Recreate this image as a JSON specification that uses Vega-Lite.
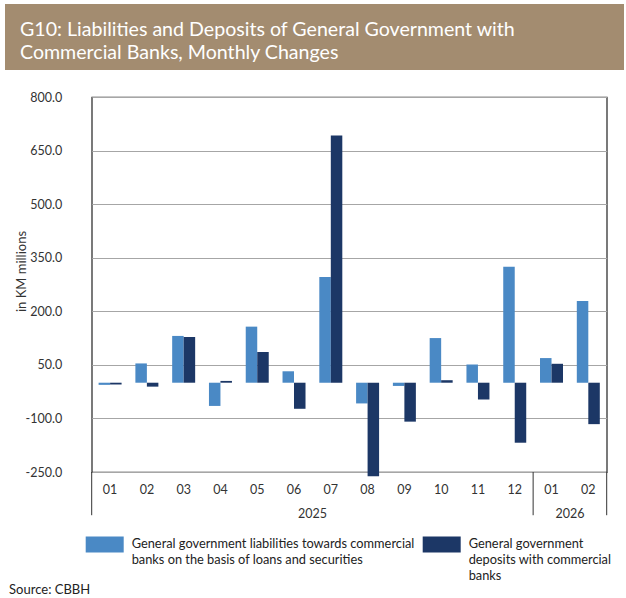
{
  "$schema": "https://vega.github.io/schema/vega-lite/v6.json",
  "padding": {"left": 5, "top": 4, "right": 2, "bottom": 0},
  "background": "white",
  "spacing": 20,
  "center": true,
  "resolve": {"legend": {"color": "independent"}},
  "config": {"font": "Lato", "view": {"stroke": null}, "style": {"guide-label": {"lineHeight": 16}}},
  "datasets": {
    "bars": [
      {"period": "2025-01", "series": "Liabilities", "value": -6},
      {"period": "2025-01", "series": "Deposits", "value": -5},
      {"period": "2025-02", "series": "Liabilities", "value": 54},
      {"period": "2025-02", "series": "Deposits", "value": -11},
      {"period": "2025-03", "series": "Liabilities", "value": 131},
      {"period": "2025-03", "series": "Deposits", "value": 128},
      {"period": "2025-04", "series": "Liabilities", "value": -65},
      {"period": "2025-04", "series": "Deposits", "value": 5},
      {"period": "2025-05", "series": "Liabilities", "value": 157},
      {"period": "2025-05", "series": "Deposits", "value": 86},
      {"period": "2025-06", "series": "Liabilities", "value": 32},
      {"period": "2025-06", "series": "Deposits", "value": -73},
      {"period": "2025-07", "series": "Liabilities", "value": 296},
      {"period": "2025-07", "series": "Deposits", "value": 692},
      {"period": "2025-08", "series": "Liabilities", "value": -58},
      {"period": "2025-08", "series": "Deposits", "value": -262},
      {"period": "2025-09", "series": "Liabilities", "value": -9},
      {"period": "2025-09", "series": "Deposits", "value": -109},
      {"period": "2025-10", "series": "Liabilities", "value": 125},
      {"period": "2025-10", "series": "Deposits", "value": 7},
      {"period": "2025-11", "series": "Liabilities", "value": 51},
      {"period": "2025-11", "series": "Deposits", "value": -47},
      {"period": "2025-12", "series": "Liabilities", "value": 325},
      {"period": "2025-12", "series": "Deposits", "value": -168},
      {"period": "2026-01", "series": "Liabilities", "value": 69},
      {"period": "2026-01", "series": "Deposits", "value": 53},
      {"period": "2026-02", "series": "Liabilities", "value": 229},
      {"period": "2026-02", "series": "Deposits", "value": -116}
    ],
    "years": [
      {"period": "2025-06", "year": "2025"},
      {"period": "2026-01", "year": "2026"}
    ],
    "sepEnd": [
      {"period": "2025-12"},
      {"period": "2026-02"}
    ],
    "sepStart": [
      {"period": "2025-01"}
    ]
  },
  "vconcat": [
    {
      "width": 619,
      "height": 66,
      "view": {"fill": "#a38c70", "stroke": null},
      "data": {"values": []},
      "mark": {"type": "point"},
      "encoding": {
        "y": {
          "datum": 0,
          "type": "quantitative",
          "axis": {"orient": "right", "labels": false, "ticks": false, "domain": false, "grid": false, "title": null, "minExtent": 75, "maxExtent": 75}
        }
      },
      "title": {
        "text": ["G10: Liabilities and Deposits of General Government with", "Commercial Banks, Monthly Changes"],
        "orient": "top",
        "anchor": "start",
        "frame": "group",
        "baseline": "top",
        "offset": -60,
        "dx": 15,
        "color": "white",
        "font": "Lato",
        "fontSize": 19.6,
        "fontWeight": "normal",
        "lineHeight": 23
      }
    },
    {
      "width": 515,
      "height": 375,
      "view": {"stroke": "#222222", "strokeWidth": 1.2},
      "title": {
        "text": "Source: CBBH",
        "orient": "bottom",
        "anchor": "start",
        "frame": "bounds",
        "dx": -6,
        "offset": 1,
        "fontSize": 13,
        "fontWeight": "normal",
        "color": "#222222",
        "font": "Lato"
      },
      "layer": [
        {
          "data": {"name": "bars"},
          "mark": {"type": "bar"},
          "encoding": {
            "x": {
              "field": "period",
              "type": "ordinal",
              "scale": {"paddingInner": 0, "paddingOuter": 0},
              "axis": {
                "title": null,
                "labelExpr": "substring(datum.value, 5, 7)",
                "labelAngle": 0,
                "ticks": false,
                "domain": false,
                "labelPadding": 11,
                "labelFontSize": 12.5,
                "labelColor": "#333333",
                "labelFont": "Lato"
              }
            },
            "xOffset": {
              "field": "series",
              "type": "nominal",
              "sort": ["Liabilities", "Deposits"],
              "scale": {"paddingInner": 0, "paddingOuter": 0.6}
            },
            "y": {
              "field": "value",
              "type": "quantitative",
              "scale": {"domain": [-250, 800], "nice": false, "zero": false},
              "axis": {
                "title": "in KM millions",
                "titleFontWeight": "normal",
                "titleFontSize": 13,
                "titleColor": "#333333",
                "titleFont": "Lato",
                "titlePadding": -3,
                "titleY": 174,
                "values": [-250, -100, 50, 200, 350, 500, 650, 800],
                "format": ".1f",
                "labelExpr": "replace(datum.label, '−', '-')",
                "grid": true,
                "gridColor": "#a6a6a6",
                "gridWidth": 1.2,
                "domain": false,
                "ticks": false,
                "labelPadding": 30,
                "labelFontSize": 12.5,
                "labelColor": "#333333",
                "labelFont": "Lato"
              }
            },
            "color": {
              "field": "series",
              "type": "nominal",
              "scale": {"domain": ["Liabilities", "Deposits"], "range": ["#4a89c5", "#1c3766"]},
              "legend": {
                "title": null,
                "orient": "none",
                "legendX": -6,
                "legendY": 432,
                "direction": "horizontal",
                "columns": 2,
                "symbolType": "M-1,-0.604H1V0.236H-1Z",
                "symbolSize": 1444,
                "symbolStrokeWidth": 0,
                "symbolOpacity": 1,
                "labelFont": "Lato",
                "labelFontSize": 12.8,
                "labelColor": "#222222",
                "labelLimit": 400,
                "labelOffset": 8,
                "labelBaseline": "alphabetic",
                "columnPadding": 8,
                "labelExpr": "datum.label == 'Deposits' ? ['General government', 'deposits with commercial', 'banks'] : ['General government liabilities towards commercial', 'banks on the basis of loans and securities', '']"
              }
            }
          }
        },
        {
          "mark": {"type": "rule", "color": "#555555", "strokeWidth": 1.5},
          "encoding": {"y": {"datum": 0, "type": "quantitative"}}
        },
        {
          "data": {"name": "years"},
          "mark": {"type": "text", "fontSize": 12.5, "color": "#333333", "baseline": "middle", "font": "Lato"},
          "encoding": {
            "x": {"field": "period", "type": "ordinal", "bandPosition": 1},
            "y": {"datum": -368, "type": "quantitative"},
            "text": {"field": "year"}
          }
        },
        {
          "data": {"name": "sepEnd"},
          "mark": {"type": "rule", "color": "#333333", "strokeWidth": 1},
          "encoding": {
            "x": {"field": "period", "type": "ordinal", "bandPosition": 1},
            "y": {"datum": -250, "type": "quantitative"},
            "y2": {"datum": -371}
          }
        },
        {
          "data": {"name": "sepStart"},
          "mark": {"type": "rule", "color": "#333333", "strokeWidth": 1},
          "encoding": {
            "x": {"field": "period", "type": "ordinal", "bandPosition": 0},
            "y": {"datum": -250, "type": "quantitative"},
            "y2": {"datum": -371}
          }
        }
      ]
    }
  ]
}
